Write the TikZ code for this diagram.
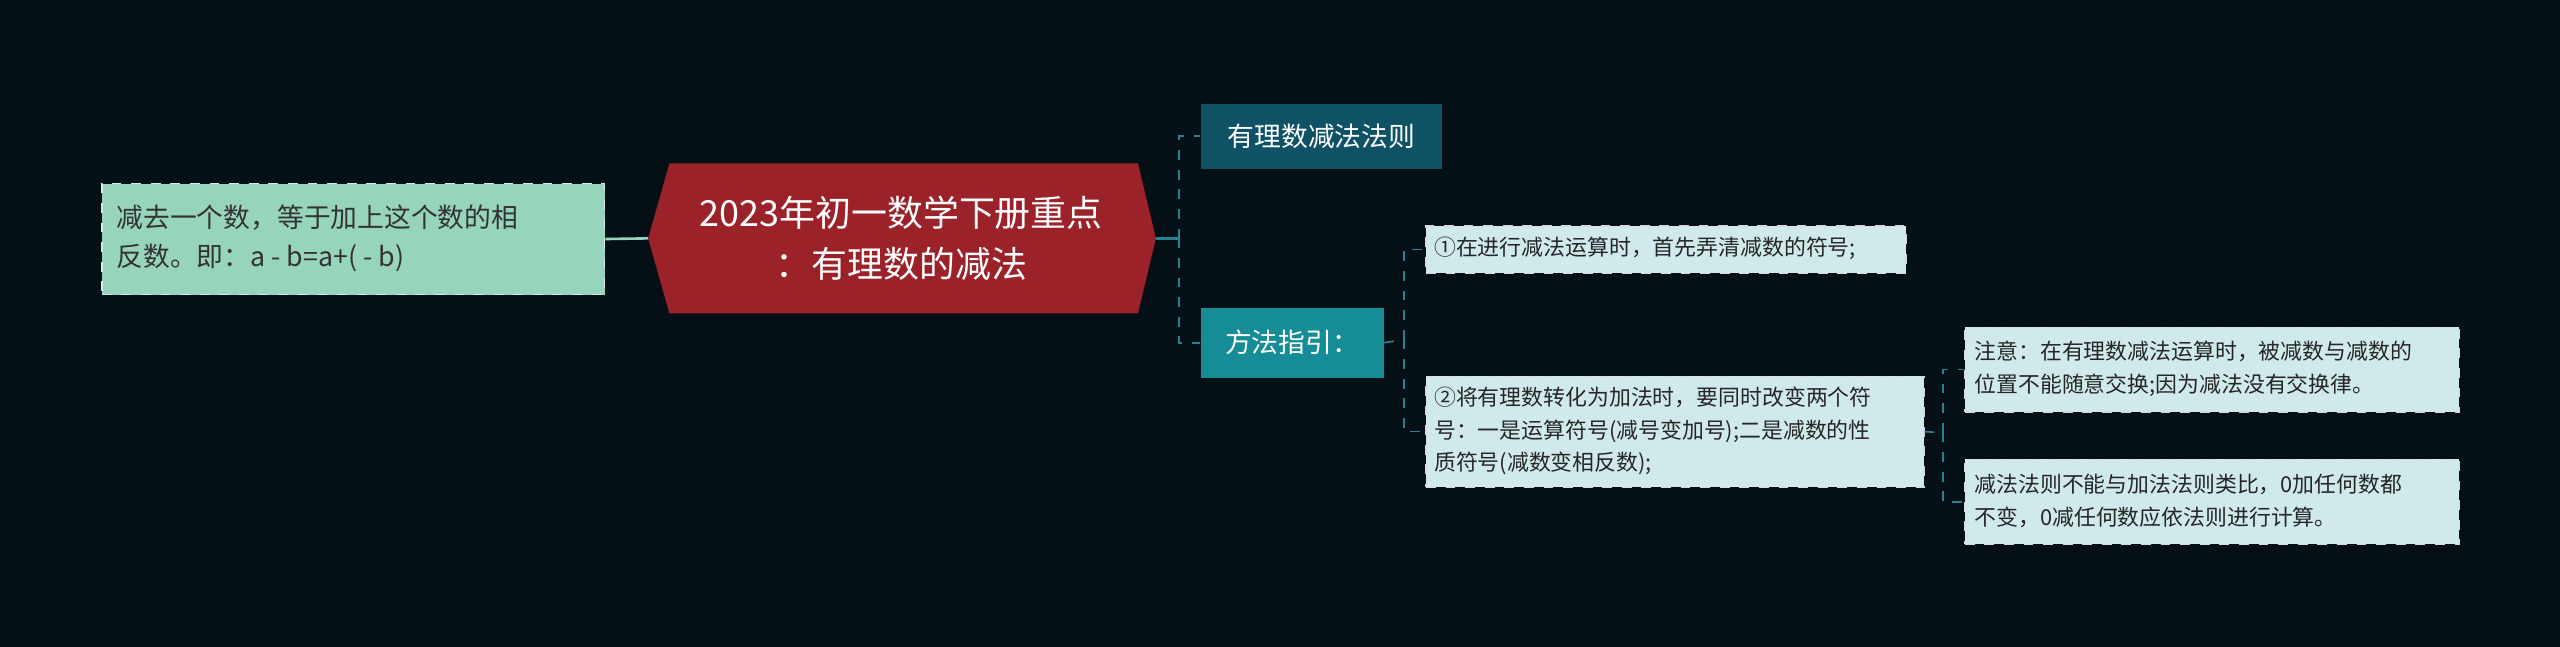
\documentclass[tikz,border=0pt]{standalone}
\usepackage{fontspec}
\setmainfont{Noto Sans CJK SC}
\begin{document}
\begin{tikzpicture}[x=0.5pt,y=-0.5pt,
  leaf/.style={draw=white!70!gray,dashed,fill=leafc,text=black!85,inner sep=0pt,anchor=north west,align=left,font=\fontsize{6.4pt}{9pt}\selectfont},
  ltext/.style={anchor=west,align=left,inner sep=0pt,font=\fontsize{6.7pt}{10pt}\selectfont,text=black!85},
  conn/.style={draw=linec,dashed,line width=0.5pt},
  solidc/.style={draw=linec,line width=0.7pt}]
\definecolor{bg}{RGB}{5,16,22}
\definecolor{leafc}{RGB}{208,234,236}
\definecolor{greenc}{RGB}{150,212,188}
\definecolor{redc}{RGB}{155,34,40}
\definecolor{n1c}{RGB}{15,82,102}
\definecolor{n2c}{RGB}{22,140,150}
\definecolor{linec}{RGB}{40,130,140}
\fill[bg] (0,0) rectangle (1568,396);
% left node
\node[draw=white!60!greenc,dashed,fill=greenc,anchor=north west,minimum width=308*0.5pt,minimum height=68*0.5pt,inner sep=0pt] (L) at (62,112) {};
\node[anchor=west,align=left,inner sep=0pt,text=black!80,font=\fontsize{8.2pt}{12pt}\selectfont] at (71,146) {减去一个数，等于加上这个数的相\\反数。即：a - b=a+( - b)};
% center
\fill[redc] (410,100) -- (697,100) -- (708,146) -- (697,192) -- (410,192) -- (397,146) -- cycle;
\coordinate (CL) at (397,146); \coordinate (CR) at (708,146);
\node[text=white,align=center,font=\fontsize{11pt}{15.5pt}\selectfont] (C) at (552,146) {2023年初一数学下册重点\\：有理数的减法};
\draw[draw=greenc,line width=0.8pt] (L.east) -- (CL);
% right nodes
\node[fill=n1c,text=white,anchor=north west,minimum width=148*0.5pt,minimum height=40*0.5pt,font=\fontsize{8.2pt}{10pt}\selectfont] (N1) at (735,63) {有理数减法法则};
\node[fill=n2c,text=white,anchor=north west,minimum width=112*0.5pt,minimum height=43*0.5pt,font=\fontsize{8.2pt}{10pt}\selectfont] (N2) at (735,188) {方法指引：};
\coordinate (J1) at (722,146);
\draw[solidc] (CR) -- (J1);
\draw[conn] (J1) |- (N1.west);
\draw[conn] (J1) |- (N2.west);
% leaves
\node[leaf,minimum width=294*0.5pt,minimum height=29*0.5pt] (A1) at (873,138) {};
\node[ltext] at (878,152) {①在进行减法运算时，首先弄清减数的符号;};
\node[leaf,minimum width=305*0.5pt,minimum height=68*0.5pt] (A2) at (873,230) {};
\node[ltext] at (878,264) {②将有理数转化为加法时，要同时改变两个符\\号：一是运算符号(减号变加号);二是减数的性\\质符号(减数变相反数);};
\coordinate (J2) at (860,208);
\draw[conn] (N2.east) -- (J2);
\draw[conn] (J2) |- (A1.west);
\draw[conn] (J2) |- (A2.west);
\node[leaf,minimum width=303*0.5pt,minimum height=52*0.5pt] (B1) at (1203,200) {};
\node[ltext] at (1209,226) {注意：在有理数减法运算时，被减数与减数的\\位置不能随意交换;因为减法没有交换律。};
\node[leaf,minimum width=303*0.5pt,minimum height=52*0.5pt] (B2) at (1203,281) {};
\node[ltext] at (1209,307) {减法法则不能与加法法则类比，0加任何数都\\不变，0减任何数应依法则进行计算。};
\coordinate (J3) at (1190,265);
\draw[conn] (A2.east) -- (J3);
\draw[conn] (J3) |- (B1.west);
\draw[conn] (J3) |- (B2.west);
\end{tikzpicture}
\end{document}
